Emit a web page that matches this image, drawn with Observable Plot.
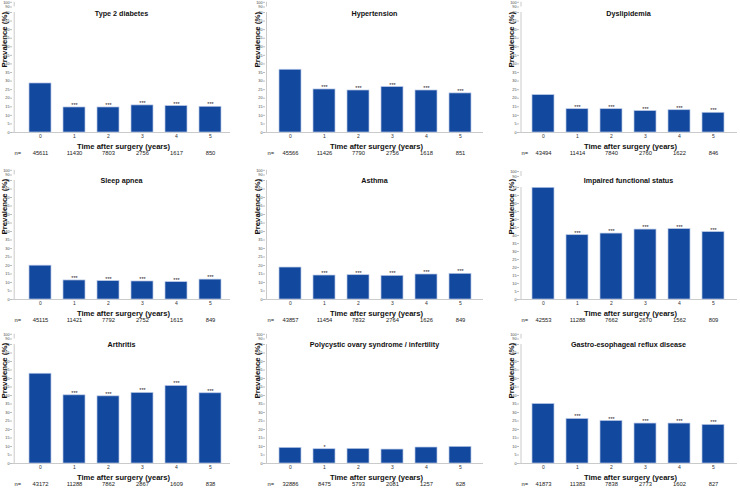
<!DOCTYPE html>
<html><head><meta charset="utf-8">
<script src="https://cdn.jsdelivr.net/npm/d3@7"></script>
<script src="https://cdn.jsdelivr.net/npm/@observablehq/plot@0.6"></script>
<style>
body{margin:0;background:#fff;overflow:hidden}
#c{position:relative;width:740px;height:488px;overflow:hidden;font-family:"Liberation Sans",Arial,sans-serif}
#c svg{position:absolute;overflow:visible;background:transparent}
</style></head><body><div id="c"></div>
<script>
// ---- data ----
const years = ["0", "1", "2", "3", "4", "5"];
const titles = ["Type 2 diabetes", "Hypertension", "Dyslipidemia", "Sleep apnea", "Asthma",
  "Impaired functional status", "Arthritis", "Polycystic ovary syndrome / infertility", "Gastro-esophageal reflux disease"];
const t2d = [28.6, 14.6, 14.6, 15.8, 15.4, 15.0];
const hypertension = [36.6, 25.1, 24.5, 26.5, 24.5, 22.8];
const dyslipidemia = [21.8, 13.6, 13.6, 12.5, 13.0, 11.5];
const sleepApnea = [19.9, 11.2, 10.8, 10.6, 10.2, 11.7];
const asthma = [18.8, 14.1, 14.3, 13.9, 14.7, 15.1];
const impaired = [69.8, 40.2, 41.2, 43.7, 44.0, 42.1];
const arthritis = [52.8, 40.1, 39.5, 41.5, 45.6, 41.3];
const pcos = [9.2, 8.4, 8.6, 8.2, 9.4, 9.8];
const gerd = [35.0, 26.2, 25.0, 23.5, 23.5, 22.7];
const values = [t2d, hypertension, dyslipidemia, sleepApnea, asthma, impaired, arthritis, pcos, gerd];

const nT2d = [45611, 11430, 7803, 2756, 1617, 850];
const nHyp = [45566, 11426, 7790, 2756, 1618, 851];
const nDys = [43494, 11414, 7840, 2760, 1622, 846];
const nSleep = [45115, 11421, 7792, 2752, 1615, 849];
const nAsthma = [43857, 11454, 7832, 2764, 1626, 849];
const nImp = [42553, 11288, 7662, 2670, 1562, 809];
const nArth = [43172, 11288, 7862, 2867, 1609, 838];
const nPcos = [32886, 8475, 5793, 2081, 1257, 628];
const nGerd = [41873, 11383, 7838, 2773, 1602, 827];
const ns = [nT2d, nHyp, nDys, nSleep, nAsthma, nImp, nArth, nPcos, nGerd];

const sigAll = ["", "***", "***", "***", "***", "***"];
const sigPcos = ["", "*", "", "", "", ""];
const stars = [sigAll, sigAll, sigAll, sigAll, sigAll, sigAll, sigAll, sigPcos, sigAll];

const yTicks = [0, 5, 10, 15, 20, 25, 30, 35, 40, 45, 50, 55, 60, 65, 70, 90, 100];
const yLabel = "Prevalence (%)";
const xLabel = "Time after surgery (years)";

// ---- layout ----
const colAxis = [12, 265, 519];
const colC0 = [38.3, 289, 541.5];
const colC5 = [211.8, 462, 715];
const rowBase = [132, 299, 463];
const topPx = [[12, 6.5, 1.8], [12, 6.5, 1.8], [12, 6.5, 1.8], [13, 7.5, 2.8], [13, 7.5, 2.8], [20, 9, 4], [13, 7.5, 2.8], [13, 7.5, 2.8], [13, 7.5, 2.8]];
const FONT = "'Liberation Sans', Arial, sans-serif";
const container = document.getElementById("c");

for (let k = 0; k < 9; k++) {
  const col = k % 3, row = Math.floor(k / 3);
  const L = colAxis[col] - 12, T = rowBase[row] - 132;
  const c0 = colC0[col] - L, c5 = colC5[col] - L, step = (c5 - c0) / 5;
  const [y70, y90, y100] = topPx[k];
  const data = years.map((yr, i) => ({year: yr, v: values[k][i], n: String(ns[k][i]), s: stars[k][i]}));
  const svg = Plot.plot({
    width: 232, height: 160,
    marginLeft: 12, marginRight: 2, marginTop: 0, marginBottom: 28,
    style: {fontFamily: FONT, background: "transparent", color: "#222"},
    x: {type: "band", domain: years, range: [c0 - step / 2, c5 + step / 2], paddingInner: 0.34, paddingOuter: 0.17},
    y: {type: "linear", domain: [0, 70, 90, 100], range: [132, y70, y90, y100]},
    marks: [
      Plot.ruleX([years[0]], {x: d => d, y1: 0, y2: 70, dx: 12 - c0, stroke: "#bdbdbd", strokeWidth: 0.8}),
      Plot.ruleX([years[0]], {x: d => d, y1: 90, y2: 100, dx: 12 - c0, stroke: "#bdbdbd", strokeWidth: 0.8}),
      Plot.ruleY([0], {stroke: "#bdbdbd", strokeWidth: 0.8}),
      Plot.barY(data, {x: "year", y: "v", fill: "#13489f", stroke: "#b8c8e6", strokeWidth: 0.7}),
      Plot.text(data, {x: "year", y: "v", text: "s", dy: -0.5, lineAnchor: "bottom", fontSize: 5.5, fill: "#222"}),
      Plot.axisY({ticks: yTicks, tickSize: 2, tickPadding: 1, fontSize: 3.8, label: null, stroke: "#bdbdbd", fill: "#444"}),
      Plot.axisX({tickSize: 0, tickPadding: 2, fontSize: 5, label: null, fill: "#333"}),
      Plot.text([titles[k]], {frameAnchor: "top", dy: 13.5, lineAnchor: "middle", fontSize: 7.2, fontWeight: "bold", fill: "#111"}),
      Plot.text([yLabel], {frameAnchor: "left", rotate: -90, dx: -8, dy: 1, lineAnchor: "middle", fontSize: 7.8, fontWeight: "bold", fill: "#111"}),
      Plot.text([xLabel], {frameAnchor: "bottom", dx: 2, dy: 14, lineAnchor: "middle", fontSize: 7.6, fontWeight: "bold", fill: "#111"}),
      Plot.text(data, {x: "year", text: "n", frameAnchor: "bottom", dy: 21, lineAnchor: "middle", fontSize: 5.8, fill: "#222"}),
      Plot.text(["n="], {frameAnchor: "bottom-left", dx: 2, dy: 21, textAnchor: "start", lineAnchor: "middle", fontSize: 5.8, fill: "#222"})
    ]
  });
  svg.style.left = L + "px";
  svg.style.top = T + "px";
  container.appendChild(svg);
}
</script></body></html>
